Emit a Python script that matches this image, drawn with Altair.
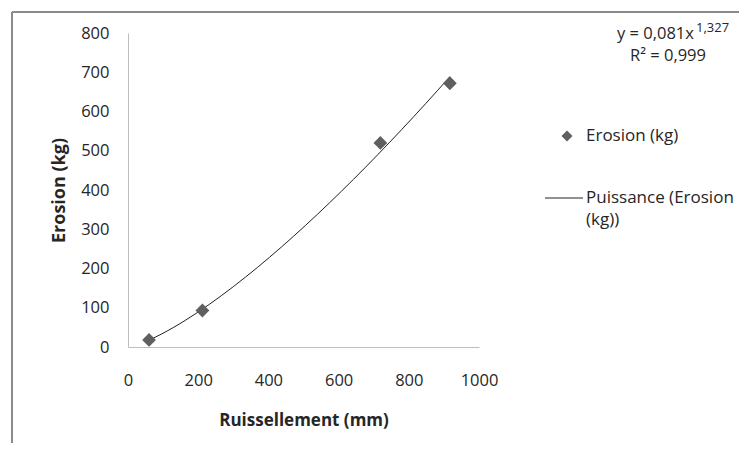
import altair as alt
import pandas as pd

# data
runoff_mm = [60, 212, 719, 917]
erosion_kg = [18, 93, 520, 672]
series_points = "Erosion (kg)"
series_fit = ["Puissance (Erosion", "(kg))"]
eq_main = "y = 0,081x"
eq_sup = "1,327"
eq_r2 = "R² = 0,999"
x_title = "Ruissellement (mm)"
y_title = "Erosion (kg)"
x_ticks = [0, 200, 400, 600, 800, 1000]
y_ticks = [0, 100, 200, 300, 400, 500, 600, 700, 800]

df = pd.DataFrame({"runoff": runoff_mm, "erosion": erosion_kg})
one = alt.Data(values=[{"a": 1}])

FONT = "Open Sans"
TXT = "#262626"
W, H = 351, 314

x_enc = alt.X("runoff:Q", scale=alt.Scale(domain=[0, 1000], nice=False),
              axis=alt.Axis(title=x_title, values=x_ticks, format="d",
                            grid=False, ticks=False, domainColor="#BDBDBD",
                            labelFlush=False,
                            labelPadding=25, titlePadding=24,
                            labelFont=FONT, labelFontSize=16.5, labelColor=TXT,
                            labelFontWeight="normal",
                            titleFont=FONT, titleFontSize=17, titleFontWeight="bold",
                            titleColor=TXT))
y_enc = alt.Y("erosion:Q", scale=alt.Scale(domain=[0, 800], nice=False),
              axis=alt.Axis(title=y_title, values=y_ticks, format="d",
                            grid=False, ticks=False, domainColor="#BDBDBD",
                            labelFlush=False,
                            labelPadding=19, titlePadding=12,
                            labelFont=FONT, labelFontSize=16.5, labelColor=TXT,
                            titleFont=FONT, titleFontSize=18, titleFontWeight="bold",
                            titleColor=TXT))

base = alt.Chart(df)

fit = base.transform_regression("runoff", "erosion", method="pow").mark_line(
    color="#222222", strokeWidth=1
).encode(x=x_enc, y=y_enc)

pts = base.mark_point(shape="diamond", filled=True, size=190, color="#5f5f5f",
                      opacity=1).encode(x=x_enc, y=y_enc)

def txt(text, x, y, size=17, align="left", baseline="middle"):
    return alt.Chart(one).mark_text(text=text, font=FONT, fontSize=size, color=TXT,
                                    align=align, baseline=baseline).encode(
        x=alt.value(x), y=alt.value(y))

# legend
leg_sym = alt.Chart(one).mark_point(shape="diamond", filled=True, size=120,
                                    color="#5f5f5f", opacity=1).encode(
    x=alt.value(439), y=alt.value(103))
leg_line = alt.Chart(one).mark_rule(color="#222222", strokeWidth=1).encode(
    x=alt.value(417), x2=alt.value(455), y=alt.value(165))
leg_t1 = txt(series_points, 458, 103)
leg_t2 = txt(series_fit[0], 458, 165)
leg_t3 = txt(series_fit[1], 458, 187)

# equation
eq1 = txt(eq_main, 489, 1, 16.5)
eq2 = txt(eq_sup, 568, -5, 13)
eq3 = txt(eq_r2, 540, 23, 16.5, align="center")

# outer frame
frame_top = alt.Chart(one).mark_rule(color="#8a8a8a", strokeWidth=2).encode(
    x=alt.value(-116), x2=alt.value(640), y=alt.value(-21))
frame_left = alt.Chart(one).mark_rule(color="#8a8a8a", strokeWidth=2).encode(
    x=alt.value(-116), y=alt.value(-21), y2=alt.value(430))

chart = alt.layer(
    frame_top, frame_left, fit, pts, leg_sym, leg_line, leg_t1, leg_t2, leg_t3,
    eq1, eq2, eq3
).properties(
    width=W, height=H,
    autosize=alt.AutoSizeParams(type="none"),
    padding={"left": 120, "top": 25, "right": 260, "bottom": 96},
).configure(background="white").configure_view(stroke=None)

chart.save("out.html", embed_options={"renderer": "svg", "actions": False})
